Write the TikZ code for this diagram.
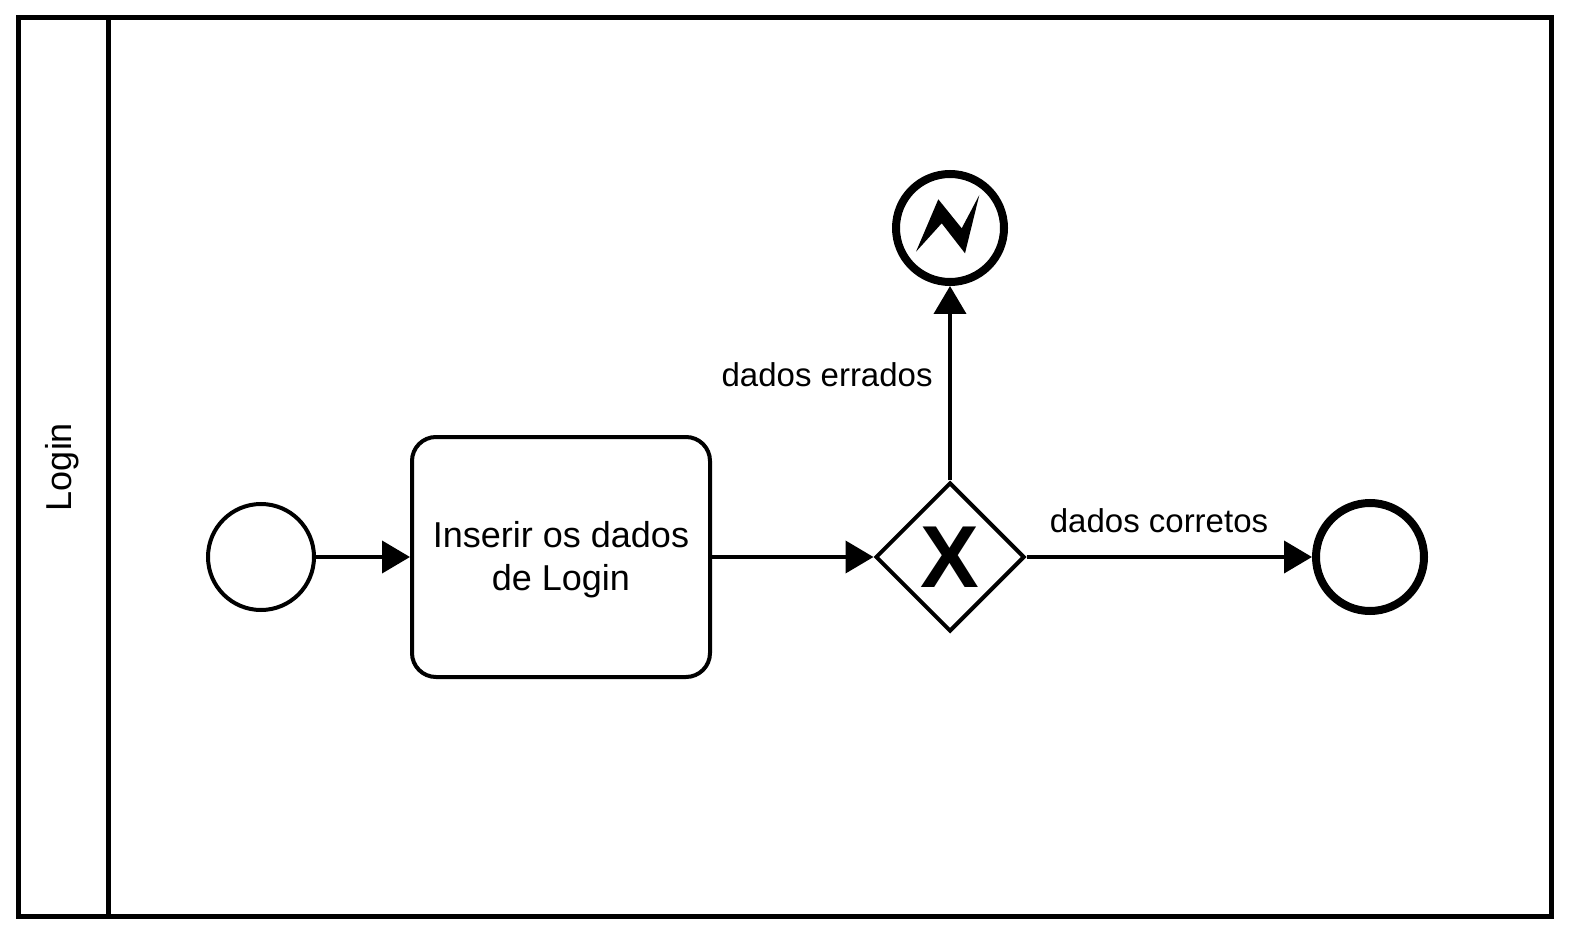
\documentclass[tikz,border=0pt]{standalone}
\usepackage{fontspec}
\setmainfont{Liberation Sans}
\usetikzlibrary{arrows.meta,positioning,shapes.geometric}

\begin{document}
\begin{tikzpicture}[
    x=0.5pt, y=-0.5pt,
    startevent/.style={circle, draw=black, line width=2pt, minimum size=53pt, inner sep=0pt},
    endevent/.style={circle, draw=black, line width=4pt, minimum size=54pt, inner sep=0pt},
    task/.style={rectangle, rounded corners=12pt, draw=black, line width=2pt, minimum width=149pt, minimum height=120pt, align=center, font=\fontsize{18}{21.5}\selectfont},
    gateway/.style={diamond, draw=black, line width=2pt, minimum width=74.5pt, minimum height=74.5pt, inner sep=0pt, font=\fontsize{44}{44}\selectfont\bfseries},
    arrow/.style={line width=2pt, -{Triangle[length=14pt,width=16pt]}},
    flowlabel/.style={font=\fontsize{16.5}{19}\selectfont, inner sep=0pt}
]
\useasboundingbox (0,0) rectangle (1569,936);

% pool and lane
\draw[line width=2.5pt] (18,18) rectangle (1551,916);
\draw[line width=2.5pt] (108,18) -- (108,916);
\node (lane) [rotate=90, font=\fontsize{18}{21.5}\selectfont] at (62,467) {Login};

\node (start) [startevent] at (261,557) {};
\node (insert) [task] at (561,557) {};
\node (inserttext) [align=center, font=\fontsize{18}{21.5}\selectfont] at (561,560) {Inserir os dados\\de Login};
\node (xor) [gateway] at (950,557) {X};
\node (error) [endevent] at (950,228) {};
\node (end) [endevent] at (1370,557) {};

% error marker
\fill (916,251.7) -- (938.3,199.3) -- (961.7,228.3) -- (979.3,195) -- (965,253.3) -- (941.7,223.3) -- cycle;

\draw [arrow] (start) -- (insert);
\draw [arrow] (insert) -- (xor);
\draw [arrow] (xor) -- (error);
\draw [arrow] (xor) -- (end);

\node (wrong) [flowlabel, anchor=east] at (933,375) {dados errados};
\node (right) [flowlabel] at (1159,521) {dados corretos};

\end{tikzpicture}
\end{document}
